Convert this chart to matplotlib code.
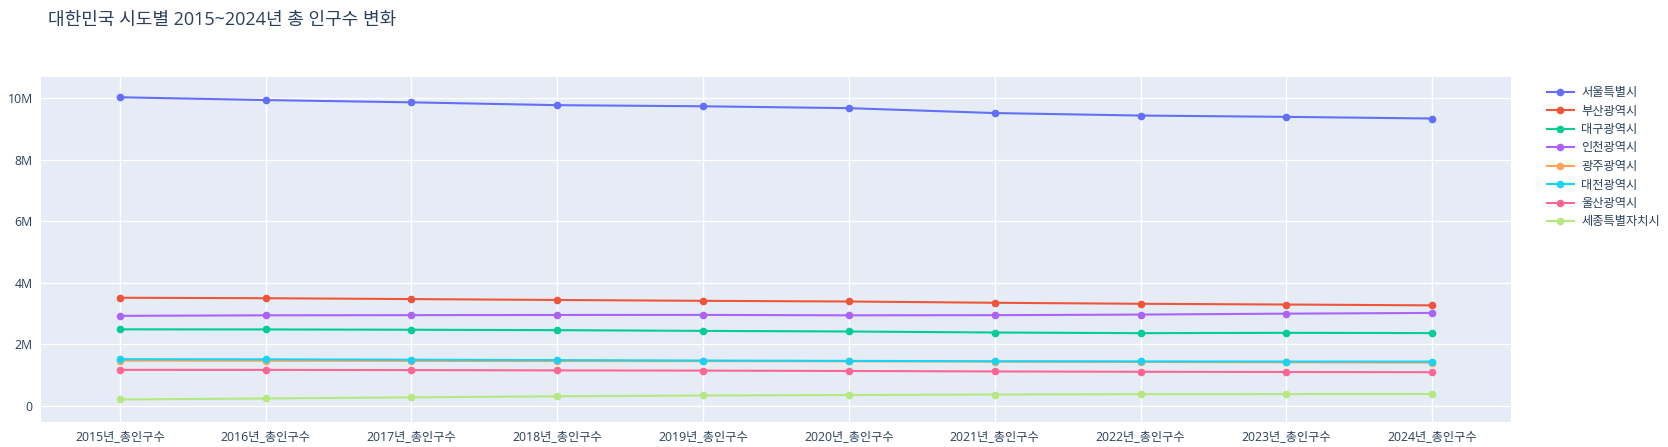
import matplotlib
matplotlib.use("Agg")
from matplotlib import pyplot as plt
from matplotlib.ticker import FuncFormatter

plt.rcParams['font.family'] = ['Open Sans', 'Noto Sans CJK KR', 'DejaVu Sans']

years = ['2015년_총인구수', '2016년_총인구수', '2017년_총인구수', '2018년_총인구수', '2019년_총인구수',
         '2020년_총인구수', '2021년_총인구수', '2022년_총인구수', '2023년_총인구수', '2024년_총인구수']

seoul = [10022181, 9930616, 9857426, 9765623, 9729107, 9668465, 9509458, 9428372, 9386034, 9331828]
busan = [3513777, 3498529, 3470653, 3441453, 3413841, 3391946, 3350380, 3317812, 3293362, 3266598]
daegu = [2487829, 2484557, 2475231, 2461769, 2438031, 2418346, 2385412, 2363691, 2374960, 2365619]
incheon = [2925815, 2943069, 2948542, 2954642, 2957026, 2942828, 2948375, 2967314, 2997410, 3021010]
gwangju = [1472199, 1469214, 1463770, 1459336, 1456468, 1450062, 1441611, 1431050, 1419237, 1408422]
daejeon = [1518775, 1514370, 1502227, 1489936, 1474870, 1463882, 1452251, 1446072, 1442216, 1441596]
ulsan = [1173534, 1172304, 1165132, 1155623, 1148019, 1136017, 1121592, 1110663, 1103661, 1096985]
sejong = [210884, 243048, 280100, 314126, 340575, 355831, 371895, 383591, 386525, 390685]

regions = ['서울특별시', '부산광역시', '대구광역시', '인천광역시', '광주광역시', '대전광역시', '울산광역시', '세종특별자치시']
series = [seoul, busan, daegu, incheon, gwangju, daejeon, ulsan, sejong]
colors = ['#636efa', '#EF553B', '#00cc96', '#ab63fa', '#FFA15A', '#19d3f3', '#FF6692', '#B6E880']

W, H = 1668, 447
fig = plt.figure(figsize=(W / 100, H / 100), dpi=100)
ax = fig.add_axes([41 / W, 1 - 422 / H, (1511 - 41) / W, (422 - 77) / H])
ax.set_facecolor('#E5ECF6')
for sp in ax.spines.values():
    sp.set_visible(False)

x = list(range(len(years)))
lines = []
for name, vals, c in zip(regions, series, colors):
    ln, = ax.plot(x, vals, color=c, lw=1.5, marker='o', markersize=4.5, label=name, zorder=3)
    lines.append(ln)

ax.set_xlim(-0.54, 9.54)
ax.set_ylim(-0.52e6, 10.68e6)
ax.set_xticks(x)
ax.set_xticklabels(years)
ax.set_yticks([0, 2e6, 4e6, 6e6, 8e6, 10e6])
ax.yaxis.set_major_formatter(FuncFormatter(lambda v, p: '0' if v == 0 else f'{int(v / 1e6)}M'))
ax.grid(True, color='white', lw=1)
ax.set_axisbelow(True)
ax.tick_params(length=0, labelsize=8.8, colors='#2a3f5f', pad=6)

fig.text(48 / W, 1 - 20 / H, '대한민국 시도별 2015~2024년 총 인구수 변화', fontsize=13,
         color='#2a3f5f', va='center', ha='left')

fig.legend(handles=lines, loc='upper left', bbox_to_anchor=(1536 / W, 1 - 75 / H), frameon=False,
           fontsize=8.8, labelcolor='#2a3f5f', handlelength=2.2, labelspacing=0.45, handletextpad=0.6)

fig.savefig('out.png', dpi=100)
